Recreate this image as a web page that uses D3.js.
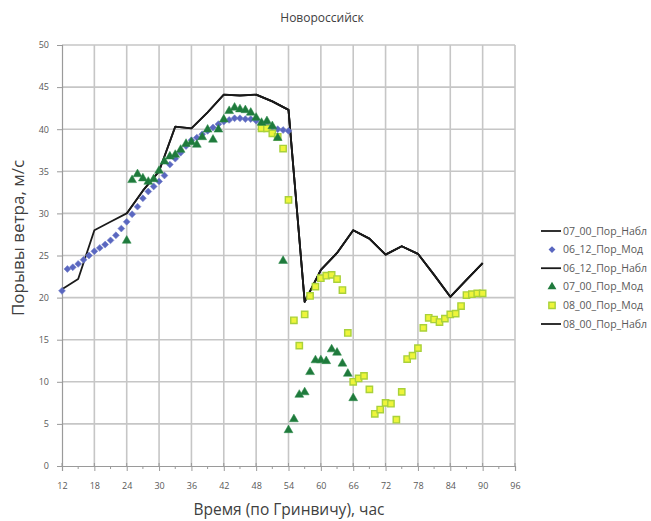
<!DOCTYPE html>
<html>
<head>
<meta charset="utf-8">
<script src="https://cdn.jsdelivr.net/npm/d3@7"></script>
<style>
  html, body { margin: 0; padding: 0; background: #fff; }
  svg { display: block; }
  text { font-family: "Open Sans", "Liberation Sans", sans-serif; }
</style>
</head>
<body>
<svg id="chart" width="651" height="521"></svg>
<script>
// ---- Data ----
const title = "Новороссийск";
const xLabel = "Время (по Гринвичу), час";
const yLabel = "Порывы ветра, м/с";
const xTicks = [12, 18, 24, 30, 36, 42, 48, 54, 60, 66, 72, 78, 84, 90, 96];
const yTicks = [0, 5, 10, 15, 20, 25, 30, 35, 40, 45, 50];

// Observations (black lines)
const obsHours  = [12, 15, 18, 21, 24, 27, 30, 33, 36, 39, 42, 45, 48, 51, 54, 57, 60, 63, 66, 69, 72, 75, 78, 81, 84, 87, 90];
const obsValues = [21.0, 22.2, 28.0, 29.0, 30.0, 32.7, 35.0, 40.3, 40.1, 42.0, 44.1, 44.0, 44.1, 43.3, 42.3, 19.5, 23.3, 25.3, 28.0, 27.0, 25.1, 26.1, 25.2, 22.7, 20.1, 22.1, 24.1];

// 06_12 model (blue diamonds)
const mod0612Hours = [12,13,14,15,16,17,18,19,20,21,22,23,24,25,26,27,28,29,30,31,32,33,34,35,36,37,38,39,40,41,42,43,44,45,46,47,48,49,50,51,52,53,54];
const mod0612Values = [20.8,23.4,23.6,24.0,24.5,25.0,25.5,25.9,26.3,26.8,27.4,28.2,29.0,29.9,30.8,31.8,32.6,33.2,33.8,34.5,35.8,36.5,37.2,38.0,38.7,39.0,39.4,39.8,40.2,40.6,40.9,41.1,41.3,41.3,41.2,41.2,41.0,40.7,40.5,40.2,40.0,39.9,39.8];

// 07_00 model (green triangles)
const mod0700Hours = [24,25,26,27,28,29,30,31,32,33,34,35,36,37,38,39,40,41,42,43,44,45,46,47,48,49,50,51,52,53,54,55,56,57,58,59,60,61,62,63,64,65,66];
const mod0700Values = [26.7,33.9,34.6,34.1,33.7,34.0,35.0,36.1,36.7,36.9,37.5,38.2,38.4,38.1,39.0,39.9,38.7,39.9,41.1,42.1,42.5,42.3,42.2,41.9,41.3,40.7,40.9,40.3,38.9,24.3,4.2,5.5,8.4,8.7,11.1,12.5,12.5,12.4,13.8,13.4,12.1,10.9,8.0];

// 08_00 model (yellow squares)
const mod0800Hours = [49,50,51,52,53,54,55,56,57,58,59,60,61,62,63,64,65,66,67,68,69,70,71,72,73,74,75,76,77,78,79,80,81,82,83,84,85,86,87,88,89,90];
const mod0800Values = [40.1,40.1,39.5,39.1,37.7,31.6,17.3,14.3,18.0,20.2,21.3,22.3,22.6,22.7,22.2,20.9,15.8,10.0,10.4,10.7,9.1,6.2,6.7,7.5,7.4,5.5,8.8,12.7,13.1,14.0,16.4,17.6,17.4,17.1,17.5,18.0,18.1,19.0,20.3,20.4,20.5,20.5];

const legendNames = ["07_00_Пор_Набл", "06_12_Пор_Мод", "06_12_Пор_Набл", "07_00_Пор_Мод", "08_00_Пор_Мод", "08_00_Пор_Набл"];

// ---- Drawing ----
const svg = d3.select("#chart");
const x = d3.scaleLinear().domain([12, 96]).range([62, 515]);
const y = d3.scaleLinear().domain([0, 50]).range([466, 45]);

const zip = (hs, vs) => hs.map((h, i) => ({h, v: vs[i]}));

// gridlines
const grid = svg.append("g");
grid.selectAll(".vg").data(xTicks.slice(1)).join("line")
  .attr("x1", d => x(d)).attr("x2", d => x(d))
  .attr("y1", y(50)).attr("y2", y(0))
  .attr("stroke", "#c6c6c6").attr("stroke-width", 1.6);
grid.selectAll(".hg").data(yTicks.slice(1)).join("line")
  .attr("x1", x(12)).attr("x2", x(96))
  .attr("y1", d => y(d)).attr("y2", d => y(d))
  .attr("stroke", "#c6c6c6").attr("stroke-width", 1.6);

// axes
const yAxis = svg.append("g").attr("transform", `translate(${x(12)},0)`)
  .call(d3.axisLeft(y).tickValues(yTicks).tickSize(5).tickPadding(8));
const xAxis = svg.append("g").attr("transform", `translate(0,${y(0)})`)
  .call(d3.axisBottom(x).tickValues(xTicks).tickSize(5).tickPadding(12));
// minor x ticks
svg.append("g").selectAll("line").data(xTicks.slice(0, -1).map(d => d + 3)).join("line")
  .attr("x1", d => x(d)).attr("x2", d => x(d))
  .attr("y1", y(0)).attr("y2", y(0) + 3)
  .attr("stroke", "#9a9a9a");
// major x ticks cross upward slightly
svg.append("g").selectAll("line").data(xTicks).join("line")
  .attr("x1", d => x(d)).attr("x2", d => x(d))
  .attr("y1", y(0) - 3).attr("y2", y(0))
  .attr("stroke", "#9a9a9a");
[yAxis, xAxis].forEach(g => {
  g.select(".domain").attr("stroke", "#9a9a9a").attr("stroke-width", 1.2);
  g.selectAll(".tick line").attr("stroke", "#9a9a9a");
  g.selectAll(".tick text").attr("fill", "#595959").style("font-size", "9px")
    .style("font-family", "'Open Sans', sans-serif");
});

// observation lines (three observation series share the observed values)
const line = d3.line().x(d => x(d.h)).y(d => y(d.v));
const obs = zip(obsHours, obsValues);
const obsSeries = [obs.filter(d => d.h >= 12), obs.filter(d => d.h >= 24), obs.filter(d => d.h >= 48)];
svg.append("g").selectAll("path").data(obsSeries).join("path")
  .attr("d", line).attr("fill", "none")
  .attr("stroke", "#1a1a1a").attr("stroke-width", 1.8).attr("stroke-linejoin", "round");

// markers
const diamond = d3.symbol().type(d3.symbolDiamond2).size(30);
const triangle = d3.symbol().type(d3.symbolTriangle).size(34);
const square = d3.symbol().type(d3.symbolSquare).size(40);

svg.append("g").selectAll("path").data(zip(mod0612Hours, mod0612Values)).join("path")
  .attr("d", diamond).attr("transform", d => `translate(${x(d.h)},${y(d.v)})`)
  .attr("fill", "#5a67c0").attr("stroke", "#7380c9").attr("stroke-width", 0.6);

svg.append("g").selectAll("path").data(zip(mod0800Hours, mod0800Values)).join("path")
  .attr("d", square).attr("transform", d => `translate(${x(d.h)},${y(d.v)})`)
  .attr("fill", "#eef53a").attr("stroke", "#a9d13a").attr("stroke-width", 1.4);

svg.append("g").selectAll("path").data(zip(mod0700Hours, mod0700Values)).join("path")
  .attr("d", triangle).attr("transform", d => `translate(${x(d.h)},${y(d.v) - 0.5})`)
  .attr("fill", "#1f7a3c").attr("stroke", "#2a8a48").attr("stroke-width", 0.5);

// titles
svg.append("text").attr("x", 322).attr("y", 22).attr("text-anchor", "middle")
  .style("font-size", "12px").attr("fill", "#404040").text(title);
svg.append("text").attr("x", 289).attr("y", 515).attr("text-anchor", "middle")
  .style("font-size", "15.5px").attr("fill", "#404040").text(xLabel);
svg.append("text").attr("transform", "translate(24,238) rotate(-90)").attr("text-anchor", "middle")
  .style("font-size", "17px").attr("fill", "#404040").text(yLabel);

// legend
const legendY = d3.scaleLinear().domain([0, 5]).range([231, 324]);
const lg = svg.append("g").selectAll("g").data(legendNames).join("g")
  .attr("transform", (d, i) => `translate(0,${legendY(i)})`);
lg.append("text").attr("x", 563).attr("y", 0).attr("dy", "0.35em")
  .style("font-size", "10.5px").attr("fill", "#595959").text(d => d);
lg.each(function(d, i) {
  const g = d3.select(this);
  if (d.endsWith("Набл")) {
    g.append("line").attr("x1", 541).attr("x2", 561).attr("y1", 0).attr("y2", 0)
      .attr("stroke", "#1a1a1a").attr("stroke-width", 1.8);
  } else if (d.startsWith("06_12")) {
    g.append("path").attr("d", diamond).attr("transform", "translate(552,0)")
      .attr("fill", "#5a67c0");
  } else if (d.startsWith("07_00")) {
    g.append("path").attr("d", triangle).attr("transform", "translate(552,0)")
      .attr("fill", "#1f7a3c");
  } else {
    g.append("path").attr("d", square).attr("transform", "translate(552,0)")
      .attr("fill", "#eef53a").attr("stroke", "#a9d13a").attr("stroke-width", 1.4);
  }
});
</script>
</body>
</html>
